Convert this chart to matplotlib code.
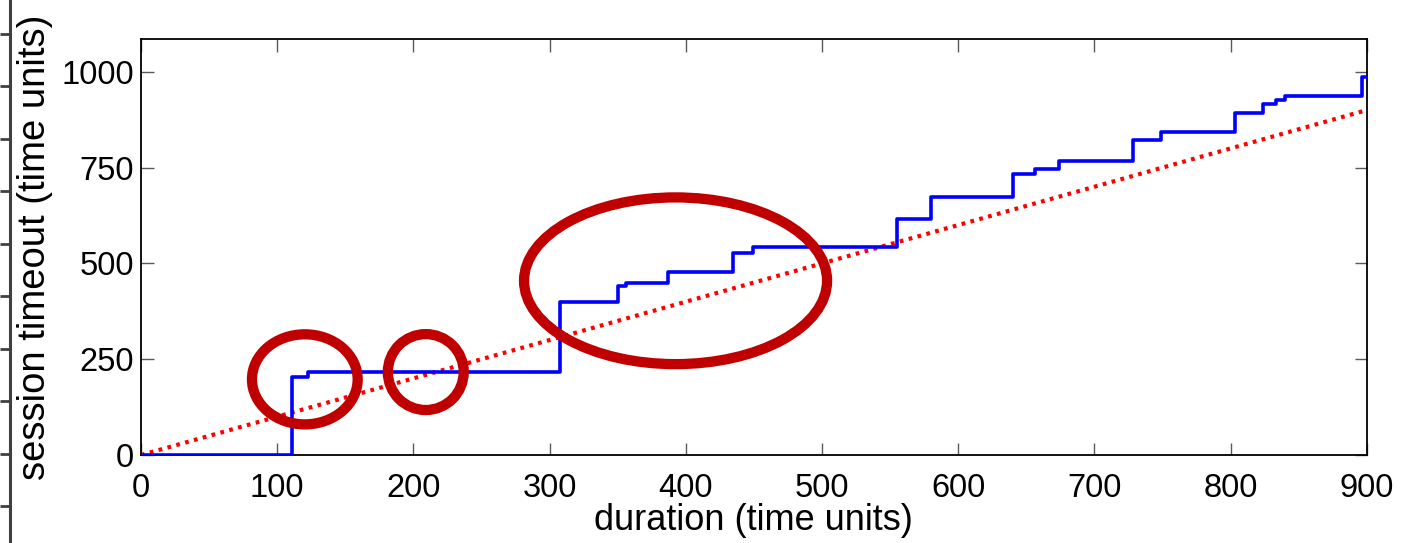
import matplotlib
matplotlib.use('Agg')
import matplotlib.pyplot as plt
from matplotlib.patches import Ellipse
import numpy as np

plt.rcParams['font.family'] = ['Liberation Sans', 'DejaVu Sans']

# session timeout as a step function of session duration
duration = [0, 110.6, 122.4, 307.7, 350, 356, 387.2, 435, 449.6, 555.3, 580,
            640.5, 656.4, 674, 728.1, 749, 803.3, 824, 833.4, 840.2, 896.3, 900]
timeout = [0, 203, 216, 400, 442, 450, 478, 526, 542, 617, 672,
           733, 747, 766, 823, 842, 893, 917, 926, 936, 987, 987]

# reference line timeout == duration
ref_x = [0, 900]
ref_y = [0, 900]

# highlighted regions: (center x, center y, width, height) in data units
highlights = [
    (120.3, 197.5, 77.6, 235),
    (209.1, 216.5, 55.7, 198),
    (392.5, 454.7, 222.5, 435),
]

xticks = [0, 100, 200, 300, 400, 500, 600, 700, 800, 900]
yticks = [0, 250, 500, 750, 1000]


def main():
    fig = plt.figure(figsize=(14.14, 5.43), dpi=100)
    ax = fig.add_axes([0.0997, 0.162, 0.8669, 0.7658])

    ax.step(duration, timeout, where='post', color='#0000ff', lw=2.6, zorder=3)
    ax.plot(ref_x, ref_y, color='#ff0000', lw=3.0, ls=(0, (0.9, 1.3)), zorder=2)

    for cx, cy, w, h in highlights:
        ax.add_patch(Ellipse((cx, cy), w, h, fill=False, edgecolor='#c00000',
                             lw=7.4, zorder=4))

    ax.set_xlim(0, 900)
    ax.set_ylim(0, 1085)
    ax.set_xticks(xticks)
    ax.set_yticks(yticks)
    ax.tick_params(direction='in', length=9, width=1, color='0.35',
                   labelsize=23.5, top=True, right=True)
    ax.tick_params(axis='x', pad=13)
    ax.tick_params(axis='y', pad=5)
    for s in ax.spines.values():
        s.set_linewidth(1.3)
        s.set_color('black')

    ax.set_xlabel('duration (time units)', fontsize=26, labelpad=-1)
    ax.set_ylabel('session timeout (time units)', fontsize=27.5, labelpad=6)

    # cropped axis strip on the far left edge
    strip = fig.add_axes([9.5 / 1414, 0, 0.001, 1])
    strip.set_ylim(543, 0)
    strip.set_xlim(0, 1)
    strip.set_yticks(np.arange(33.5, 543, 52.5))
    strip.set_yticklabels([])
    strip.set_xticks([])
    for side in ['top', 'right', 'bottom']:
        strip.spines[side].set_visible(False)
    strip.spines['left'].set_linewidth(2.2)
    strip.spines['left'].set_color('0.25')
    strip.tick_params(axis='y', direction='out', length=7, width=2, color='0.25')
    strip.patch.set_visible(False)

    fig.savefig('out.png', dpi=100)


if __name__ == '__main__':
    main()
